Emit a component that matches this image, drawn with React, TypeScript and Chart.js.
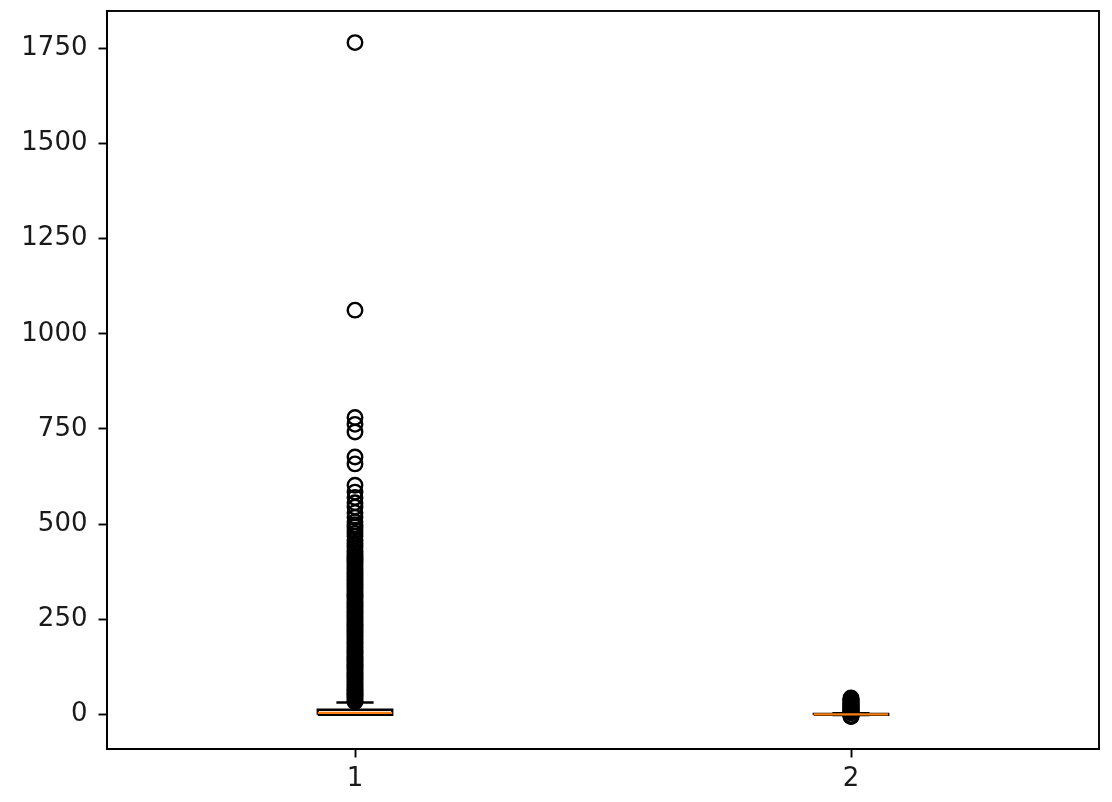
import React, { useEffect, useRef } from "react";
import { Chart, registerables } from "chart.js";

Chart.register(...registerables);

// ---- data ----
const categories = ["1", "2"];
const positions = [1, 2];
const q1Values = [-1, -1];
const medianValues = [4, 0];
const q3Values = [12, 1];
const whiskerLow = [-1, -2];
const whiskerHigh = [31, 3];
const outliers1 = [
  33, 36, 40, 44, 48, 51, 55, 59, 63, 66, 70, 74, 78, 82, 86, 90, 94, 98, 102, 106, 110, 115, 119, 123, 127,
  131, 135, 140, 144, 148, 152, 157, 161, 165, 170, 174, 178, 183, 187, 191, 196, 200, 205, 209, 214, 218,
  223, 227, 232, 236, 241, 245, 250, 255, 259, 264, 268, 273, 278, 282, 287, 292, 296, 301, 306, 311, 315,
  320, 325, 330, 334, 339, 344, 349, 354, 358, 363, 368, 373, 378, 383, 388, 393, 398, 403, 408, 413, 418,
  424, 430, 437, 444, 450, 459, 468, 476, 484, 492, 498, 506, 518, 530, 545, 556, 570, 584, 602, 658, 676,
  742, 762, 780, 1062, 1765,
];
const outliers2 = [
  -6, -5, -4, -3, 4, 5, 6, 8, 9, 11, 12, 14, 15, 17, 19, 20, 22, 24, 25, 27, 29, 31, 33, 35, 37, 39, 41, 43,
];
const outlierSets = [outliers1, outliers2];
const yTicks = [0, 250, 500, 750, 1000, 1250, 1500, 1750];
const yMin = -91;
const yMax = 1848;

const BOX_HALF = 0.075;
const CAP_HALF = 0.0375;
const FONT = "'DejaVu Sans', sans-serif";

const frame = {
  id: "frame",
  afterDatasetsDraw(chart: any) {
    const { ctx, chartArea } = chart;
    ctx.save();
    ctx.strokeStyle = "#000";
    ctx.lineWidth = 1.9;
    ctx.strokeRect(chartArea.left, chartArea.top, chartArea.right - chartArea.left, chartArea.bottom - chartArea.top);
    ctx.restore();
  },
};

export default function App() {
  const ref = useRef<HTMLCanvasElement | null>(null);

  useEffect(() => {
    if (!ref.current) return;
    const datasets: any[] = [];
    positions.forEach((p, i) => {
      const line = (data: any[], color: string, order: number) => ({
        type: "scatter",
        data,
        showLine: true,
        borderColor: color,
        backgroundColor: color,
        borderWidth: 2.4,
        pointRadius: 0,
        pointHoverRadius: 0,
        order,
      });
      // whiskers
      datasets.push(line([{ x: p, y: q3Values[i] }, { x: p, y: whiskerHigh[i] }], "#000", 4));
      datasets.push(line([{ x: p, y: q1Values[i] }, { x: p, y: whiskerLow[i] }], "#000", 4));
      // caps
      datasets.push(line([{ x: p - CAP_HALF, y: whiskerHigh[i] }, { x: p + CAP_HALF, y: whiskerHigh[i] }], "#000", 4));
      datasets.push(line([{ x: p - CAP_HALF, y: whiskerLow[i] }, { x: p + CAP_HALF, y: whiskerLow[i] }], "#000", 4));
      // box
      datasets.push(
        line(
          [
            { x: p - BOX_HALF, y: q1Values[i] },
            { x: p + BOX_HALF, y: q1Values[i] },
            { x: p + BOX_HALF, y: q3Values[i] },
            { x: p - BOX_HALF, y: q3Values[i] },
            { x: p - BOX_HALF, y: q1Values[i] },
          ],
          "#000",
          3
        )
      );
      // median
      datasets.push(line([{ x: p - BOX_HALF, y: medianValues[i] }, { x: p + BOX_HALF, y: medianValues[i] }], "#ff7f0e", 0));
      // fliers
      datasets.push({
        type: "scatter",
        data: outlierSets[i].map((v) => ({ x: p, y: v })),
        showLine: false,
        pointStyle: "circle",
        pointRadius: 7.25,
        pointBorderWidth: 2.4,
        borderWidth: 2.4,
        borderColor: "#000",
        backgroundColor: "rgba(0,0,0,0)",
        order: 1,
      });
    });

    const chart = new Chart(ref.current, {
      type: "scatter",
      data: { datasets },
      plugins: [frame],
      options: {
        animation: false,
        responsive: false,
        events: [],
        layout: { padding: { top: 11, right: 13, left: 0, bottom: 0 } },
        plugins: { legend: { display: false }, tooltip: { enabled: false } },
        scales: {
          x: {
            type: "linear",
            min: 0.5,
            max: 2.5,
            afterBuildTicks: (scale: any) => {
              scale.ticks = positions.map((v) => ({ value: v }));
            },
            afterFit: (scale: any) => {
              scale.height = 53;
              scale.paddingLeft = 0;
              scale.paddingRight = 0;
            },
            ticks: {
              callback: (v: any) => categories[positions.indexOf(Number(v))] ?? "",
              font: { family: FONT, size: 26 },
              color: "#1a1a1a",
              padding: 6,
              maxRotation: 0,
            },
            grid: { display: true, drawOnChartArea: false, tickLength: 8.5, tickWidth: 1.9, tickColor: "#000" },
            border: { display: true, color: "#000", width: 1.9 },
          },
          y: {
            type: "linear",
            min: yMin,
            max: yMax,
            afterBuildTicks: (scale: any) => {
              scale.ticks = yTicks.map((v) => ({ value: v }));
            },
            afterFit: (scale: any) => {
              scale.width = 107;
              scale.paddingTop = 0;
              scale.paddingBottom = 0;
            },
            ticks: {
              callback: (v: any) => String(v),
              font: { family: FONT, size: 26 },
              color: "#1a1a1a",
              padding: 11,
            },
            grid: { display: true, drawOnChartArea: false, tickLength: 8.5, tickWidth: 1.9, tickColor: "#000" },
            border: { display: true, color: "#000", width: 1.9 },
          },
        },
      } as any,
    });
    return () => chart.destroy();
  }, []);

  return (
    <div style={{ position: "fixed", left: 0, top: 0, width: 1112, height: 802, background: "#fff" }}>
      <canvas ref={ref} width={1112} height={802} style={{ display: "block" }} />
    </div>
  );
}
